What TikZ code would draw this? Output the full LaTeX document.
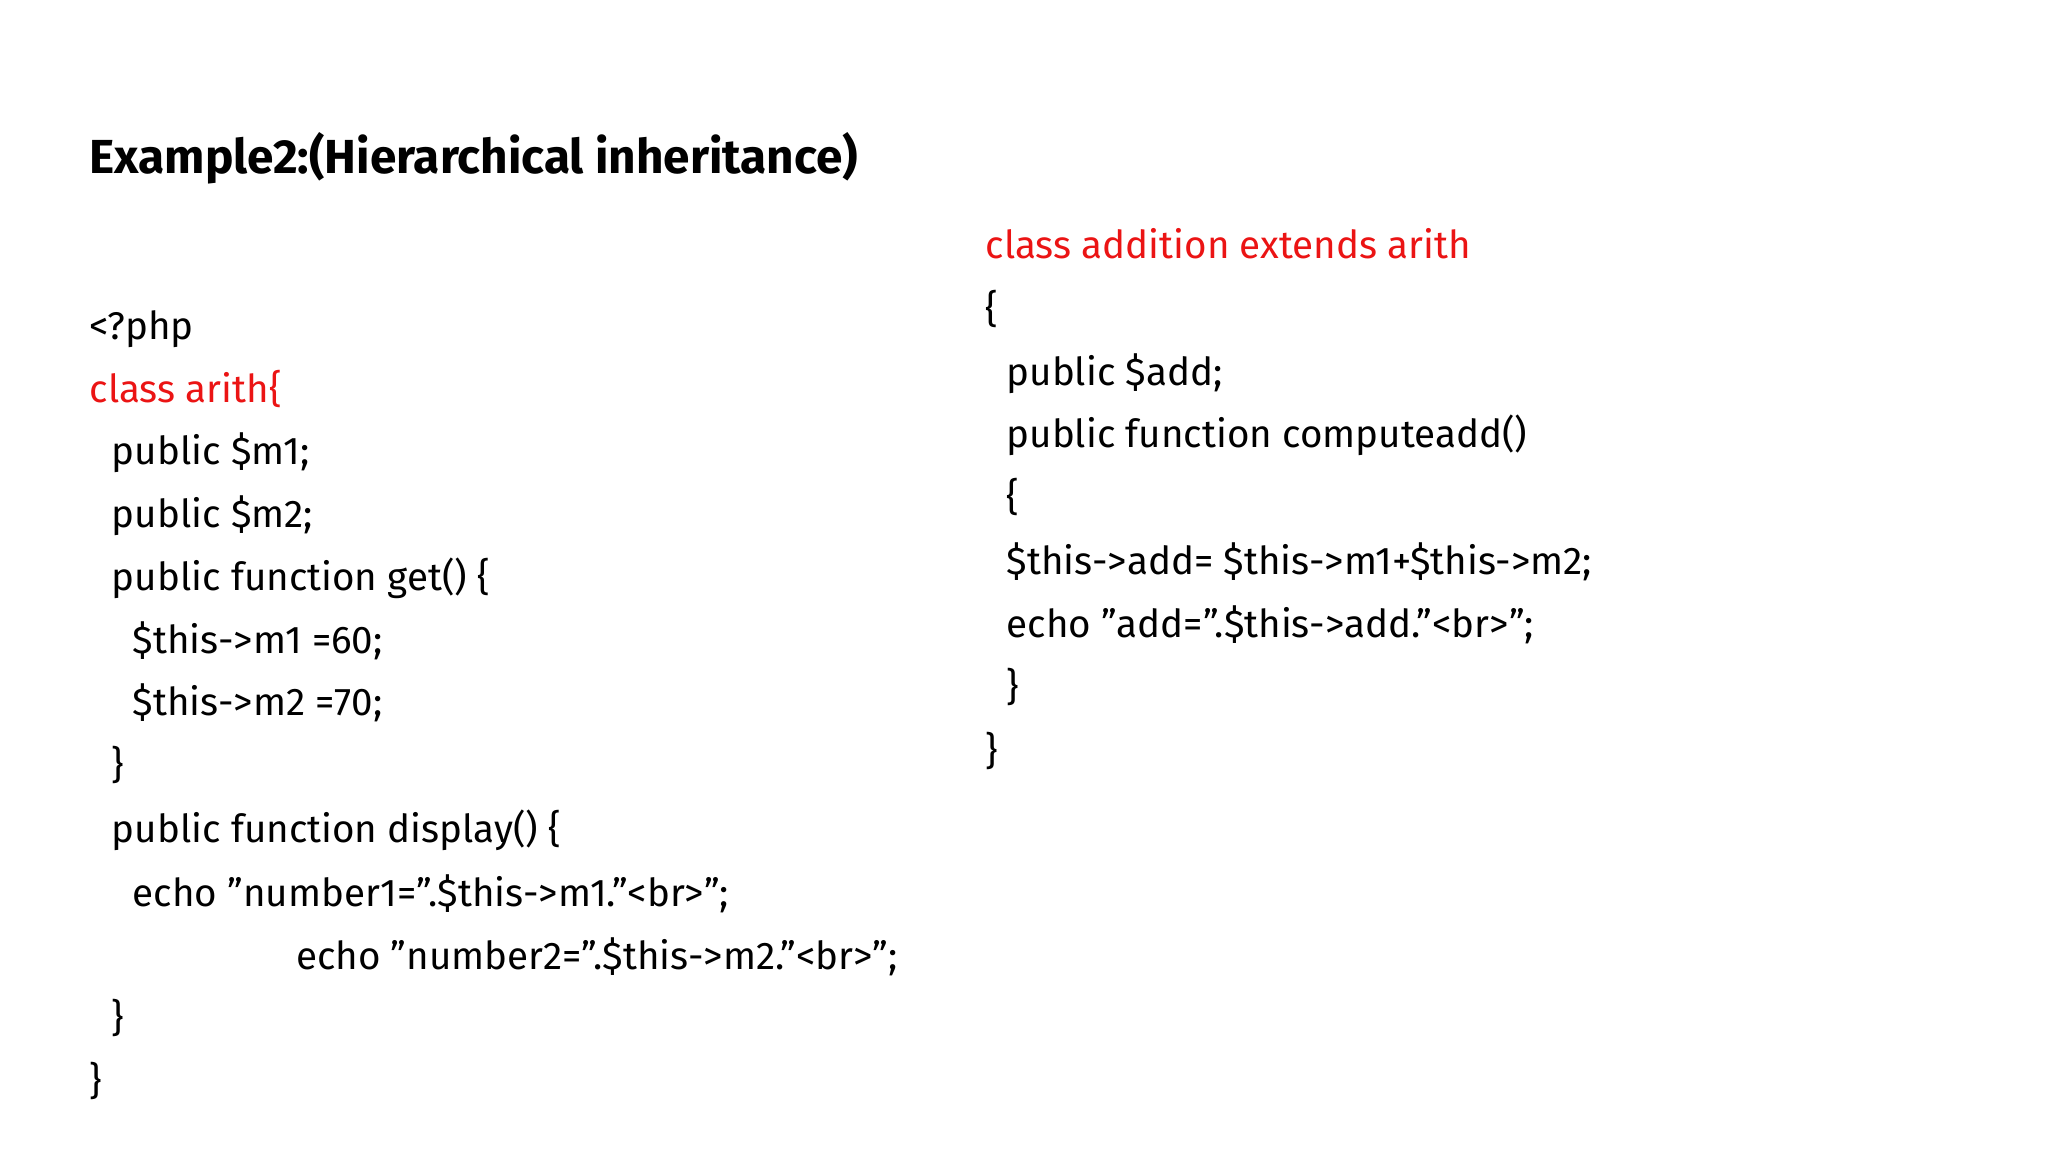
\documentclass[tikz,border=0pt]{standalone}
\usepackage{fontspec}
\setmainfont[Ligatures=NoCommon]{Fira Sans}
\newcommand{\q}{\char34 }
\begin{document}
\begin{tikzpicture}[x=0.01cm,y=-0.01cm,
  code/.style={anchor=base west,inner sep=0pt,font=\fontsize{8.4}{10}\selectfont},
  red/.style={text={rgb,255:red,235;green,20;blue,20}}]
\useasboundingbox[fill=white] (0,0) rectangle (1568,882);
\node[code,font=\bfseries\fontsize{10.4}{12}\selectfont] (t) at (68,133) {Example2:(Hierarchical inheritance)};
\node[code] (l1) at (68,260) {<?php};
\node[code,red] (l2) at (68,308) {class arith\{};
\node[code] (l3) at (85,356) {public \$m1;};
\node[code] (l4) at (85,404) {public \$m2;};
\node[code] (l5) at (85,452) {public function get() \{};
\node[code] (l6) at (101,500) {\$this->m1 =60;};
\node[code] (l7) at (101,548) {\$this->m2 =70;};
\node[code] (l8) at (85,596) {\}};
\node[code] (l9) at (85,645) {public function display() \{};
\node[code] (l10) at (101,694) {echo \q number1=\q.\$this->m1.\q<br>\q;};
\node[code] (l11) at (226,742) {echo \q number2=\q.\$this->m2.\q<br>\q;};
\node[code] (l12) at (85,790) {\}};
\node[code] (l13) at (68,838) {\}};
\node[code,red] (r1) at (754,198) {class addition extends arith};
\node[code] (r2) at (754,247) {\{};
\node[code] (r3) at (770,295) {public \$add;};
\node[code] (r4) at (770,343) {public function computeadd()};
\node[code] (r5) at (770,391) {\{};
\node[code] (r6) at (770,440) {\$this->add= \$this->m1+\$this->m2;};
\node[code] (r7) at (770,488) {echo \q add=\q.\$this->add.\q<br>\q;};
\node[code] (r8) at (770,536) {\}};
\node[code] (r9) at (754,585) {\}};
\end{tikzpicture}
\end{document}
